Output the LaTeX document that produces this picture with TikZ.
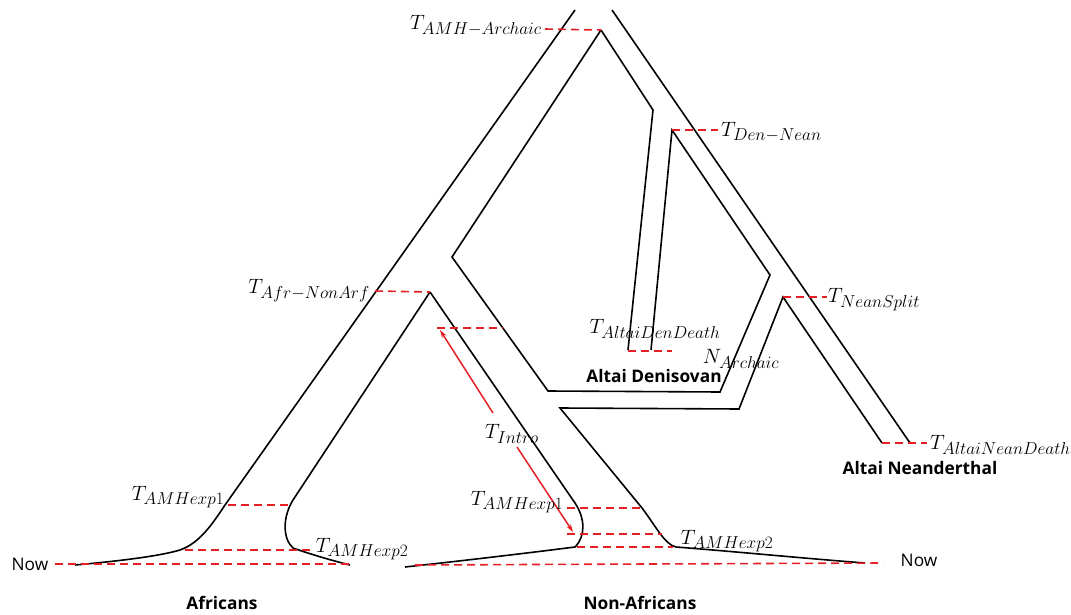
\documentclass[tikz,border=0pt]{standalone}
\usepackage[no-math]{fontspec}
\newfontfamily\osans{Open Sans}
\usetikzlibrary{arrows.meta}
\definecolor{tred}{RGB}{228,32,36}
\DeclareMathSizes{22}{22}{16.5}{12}
\begin{document}
\begin{tikzpicture}[x=1pt,y=-1pt,
  wall/.style={line width=1.6pt,black,line join=miter},
  tline/.style={tred,line width=1.6pt,dash pattern=on 8pt off 5pt},
  intro/.style={tred,line width=1.5pt,-{Stealth[length=8pt,width=5pt]}},
  tlab/.style={inner sep=0pt,font=\fontsize{22}{26}\selectfont},
  grp/.style={inner sep=0pt,font=\osans\bfseries\fontsize{17.3}{20}\selectfont},
  nowlab/.style={inner sep=0pt,font=\osans\fontsize{17.3}{20}\selectfont}]
\useasboundingbox (0,0) rectangle (1071,615);

% ---- key points
\coordinate (amh) at (601,30);
\coordinate (afr) at (430,292);
\coordinate (dn) at (672,130);
\coordinate (ns) at (783,297);

% ---- lineage walls
\draw[wall] (575,10) -- (225,505) .. controls (213,523) and (200,543) .. (180,550)
   .. controls (160,556) and (120,561) .. (75,565);
\draw[wall] (afr) -- (293,500) .. controls (283,516) and (282,538) .. (293,548)
   .. controls (310,554) and (330,560) .. (350,565);
\draw[wall] (afr) -- (575,503) .. controls (585,518) and (586,536) .. (575,547)
   .. controls (520,554) and (460,561) .. (405,567);
\draw[wall] (amh) -- (452,257) -- (548,391) -- (720,392) -- (770,275) -- (dn) -- (651,350);
\draw[wall] (amh) -- (653,110) -- (628,350);
\draw[wall] (612,10) -- (910,443);
\draw[wall] (882,443) -- (ns) -- (739,409) -- (560,408) -- (642,508)
   .. controls (655,525) and (665,545) .. (676,547)
   .. controls (740,552) and (800,558) .. (865,563);

% ---- time lines
\draw[tline] (545,29) -- (amh);
\draw[tline] (dn) -- (718,130);
\draw[tline] (375,291) -- (afr);
\draw[tline] (437,328) -- (503,328);
\draw[tline] (ns) -- (827,297);
\draw[tline] (628,351) -- (672,351);
\draw[tline] (882,443) -- (927,443);
\draw[tline] (228,505) -- (288,505);
\draw[tline] (185,550) -- (313,550);
\draw[tline] (55,564) -- (350,564);
\draw[tline] (567,508) -- (642,508);
\draw[tline] (567,534) -- (662,534);
\draw[tline] (577,547) -- (673,547);
\draw[tline] (415,565) -- (883,563);

% ---- introgression arrows
\coordinate (i1s) at (493,413); \coordinate (i1e) at (440,330);
\coordinate (i2s) at (517,447); \coordinate (i2e) at (573,532);
\draw[intro] (i1s) -- (i1e);
\draw[intro] (i2s) -- (i2e);

% ---- time labels
\node[tlab,anchor=east] (lamh) at (542,26) {$T_{AMH-Archaic}$};
\node[tlab,anchor=west] (ldn) at (721,132) {$T_{Den-Nean}$};
\node[tlab,anchor=east] (lafr) at (370,291) {$T_{Afr-NonArf}$};
\node[tlab,anchor=west] (lns) at (828,300) {$T_{NeanSplit}$};
\node[tlab] (lden) at (655,329) {$T_{AltaiDenDeath}$};
\node[tlab] (larch) at (741,359) {$N_{Archaic}$};
\node[tlab,anchor=west] (lnd) at (930,445) {$T_{AltaiNeanDeath}$};
\node[tlab] (le1a) at (178,497) {$T_{AMHexp1}$};
\node[tlab] (le2a) at (362,549) {$T_{AMHexp2}$};
\node[tlab] (le1n) at (517,502) {$T_{AMHexp1}$};
\node[tlab] (le2n) at (727,541) {$T_{AMHexp2}$};
\node[tlab] (lint) at (512,434) {$T_{Intro}$};

% ---- group labels
\node[grp] (gafr) at (222,603) {Africans};
\node[grp] (gnon) at (640,603) {Non-Africans};
\node[grp] (gden) at (654,376) {Altai Denisovan};
\node[grp] (gnea) at (920,468) {Altai Neanderthal};
\node[nowlab] (now1) at (30,564) {Now};
\node[nowlab] (now2) at (919,560) {Now};
\end{tikzpicture}
\end{document}
